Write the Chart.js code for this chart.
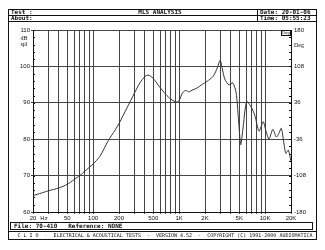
<!DOCTYPE html>
<html>
<head>
<meta charset="utf-8">
<script src="https://cdn.jsdelivr.net/npm/chart.js@4/dist/chart.umd.min.js"></script>
<style>
  html, body { margin: 0; padding: 0; background: #fff; }
  #wrap { width: 325px; height: 250px; position: relative; }
</style>
</head>
<body>
<div id="wrap"><canvas id="c"></canvas></div>
<script>
// ---- Data ----
const freqHz = [20, 25, 30, 40, 50, 60, 70, 80, 100, 120, 150, 180, 200, 250, 300, 350, 400, 430, 470, 520,
  600, 700, 800, 900, 950, 1000, 1100, 1200, 1300, 1450, 1600, 1900, 2200, 2500, 2800, 3000, 3200, 3400,
  3800, 4200, 4600, 4900, 5200, 5500, 6100, 6900, 7600, 8500, 9500, 10300, 11100, 12300, 13500, 14400,
  15400, 16400, 17400, 18600, 20000];
const splDb = [64.5, 65.2, 65.8, 66.6, 67.6, 68.9, 70.0, 71.2, 73.2, 75.3, 79.6, 82.5, 84.3, 88.8, 92.5,
  95.5, 97.2, 97.6, 97.3, 96.2, 94.2, 92.3, 91.0, 90.3, 90.2, 90.6, 92.8, 93.4, 93.0, 93.6, 94.0, 95.2,
  96.2, 97.3, 99.8, 101.7, 99.0, 96.5, 94.9, 95.5, 92.8, 85.5, 78.5, 82.5, 90.3, 88.8, 86.5, 82.2, 84.8,
  82.0, 80.0, 82.7, 80.6, 81.5, 83.0, 79.5, 76.1, 77.0, 73.8];

const splTicks = [60, 70, 80, 90, 100, 110];
const degTicks = [-180, -108, -36, 36, 108, 180];
const gridFreqs = [20, 30, 40, 50, 60, 70, 80, 90, 100, 200, 300, 400, 500, 600, 700, 800, 900,
  1000, 2000, 3000, 4000, 5000, 6000, 7000, 8000, 9000, 10000, 20000];
const labelFreqs = [20, 50, 100, 200, 500, 1000, 2000, 5000, 10000, 20000];
const labelText = ['20', '50', '100', '200', '500', '1K', '2K', '5K', '10K', '20K'];

const INK = '#111';
const GRID = '#444';
const tickFont = { family: 'Liberation Sans', size: 6 };

// frame, header, footer and small axis captions
const clioFrame = {
  id: 'clioFrame',
  afterDraw(chart) {
    const ctx = chart.ctx;
    const a = chart.chartArea;
    ctx.save();
    ctx.strokeStyle = INK;
    ctx.fillStyle = INK;
    ctx.lineWidth = 1;

    // outer frame
    ctx.strokeRect(8.5, 9.5, 308, 230);
    // header
    ctx.beginPath();
    ctx.moveTo(8.5, 15.5); ctx.lineTo(316.5, 15.5);
    ctx.moveTo(8.5, 21.5); ctx.lineTo(316.5, 21.5);
    ctx.moveTo(257.5, 9.5); ctx.lineTo(257.5, 21.5);
    ctx.stroke();

    ctx.font = 'bold 6px "DejaVu Sans Mono"';
    ctx.textBaseline = 'middle';
    ctx.textAlign = 'left';
    ctx.fillText('Test :', 11, 12.8);
    ctx.fillText('About:', 11, 18.8);
    ctx.fillText('Date: 20-01-06', 260, 12.8);
    ctx.fillText('Time: 05:55:23', 260, 18.8);
    ctx.textAlign = 'center';
    ctx.fillText('MLS ANALYSIS', 160, 12.8);

    // footer
    ctx.strokeRect(10.5, 222.5, 302, 7);
    ctx.beginPath();
    ctx.moveTo(8.5, 231.5); ctx.lineTo(316.5, 231.5);
    ctx.stroke();
    ctx.textAlign = 'left';
    ctx.fillText('File: 70-410   Reference: NONE', 14, 226.3);
    ctx.font = '5px "DejaVu Sans Mono"';
    ctx.textAlign = 'center';
    ctx.fillText('C L I O  -  ELECTRICAL & ACOUSTICAL TESTS  -  VERSION 4.52  -  COPYRIGHT (C) 1991-2000 AUDIOMATICA',
      165, 235.5);

    // axis captions
    ctx.font = '6px "Liberation Serif"';
    ctx.fillText('dB', 24, 38);
    ctx.fillText('spl', 24, 44);
    ctx.textAlign = 'left';
    ctx.fillText('Deg', 294, 45);
    ctx.textAlign = 'center';
    ctx.font = '6px "Liberation Sans"';
    ctx.textBaseline = 'top';
    ctx.fillText('Hz', 44, 215);
    ctx.textBaseline = 'middle';

    // small box at top right of the plot
    ctx.strokeRect(281.5, 30.5, 9, 5);
    ctx.font = '4px "Liberation Sans"';
    ctx.fillText('Deg', 286, 33.2);

    // minor ticks on both vertical axes
    ctx.beginPath();
    const ys = chart.scales.y;
    for (let v = 60; v <= 110; v += 2) {
      const y = Math.round(ys.getPixelForValue(v)) + 0.5;
      ctx.moveTo(a.left, y); ctx.lineTo(a.left + 2, y);
      ctx.moveTo(a.right, y); ctx.lineTo(a.right - 2, y);
    }
    ctx.stroke();
    ctx.restore();
  }
};

new Chart(document.getElementById('c'), {
  type: 'line',
  data: {
    datasets: [
      {
        label: 'SPL',
        data: freqHz.map((f, i) => ({ x: f, y: splDb[i] })),
        borderColor: '#333',
        borderWidth: 1,
        pointRadius: 0,
        tension: 0.25,
        yAxisID: 'y'
      },
      {
        label: 'Phase',
        data: [],
        yAxisID: 'y1'
      }
    ]
  },
  options: {
    responsive: true,
    maintainAspectRatio: false,
    animation: false,
    events: [],
    layout: { padding: { top: 30, left: 0, right: 0, bottom: 0 } },
    plugins: { legend: { display: false }, tooltip: { enabled: false } },
    scales: {
      x: {
        type: 'logarithmic',
        min: 20,
        max: 20000,
        afterBuildTicks: s => { s.ticks = gridFreqs.map(v => ({ value: v })); },
        afterFit: s => { s.height = 38; },
        ticks: {
          autoSkip: false,
          maxRotation: 0,
          padding: 1,
          color: INK,
          font: tickFont,
          callback: v => {
            const k = labelFreqs.indexOf(v);
            return k >= 0 ? labelText[k] : '';
          }
        },
        grid: { color: GRID, lineWidth: 1, tickLength: 2 },
        border: { color: INK }
      },
      y: {
        position: 'left',
        min: 60,
        max: 110,
        afterBuildTicks: s => { s.ticks = splTicks.map(v => ({ value: v })); },
        afterFit: s => { s.width = 33; },
        ticks: { color: INK, font: tickFont, padding: 1 },
        grid: { color: GRID, lineWidth: 1, tickLength: 2 },
        border: { color: INK }
      },
      y1: {
        position: 'right',
        min: -180,
        max: 180,
        afterBuildTicks: s => { s.ticks = degTicks.map(v => ({ value: v })); },
        afterFit: s => { s.width = 34; },
        ticks: { color: INK, font: tickFont, padding: 1 },
        grid: { display: false, drawOnChartArea: false, tickLength: 2 },
        border: { color: INK }
      }
    }
  },
  plugins: [clioFrame]
});
</script>
</body>
</html>
